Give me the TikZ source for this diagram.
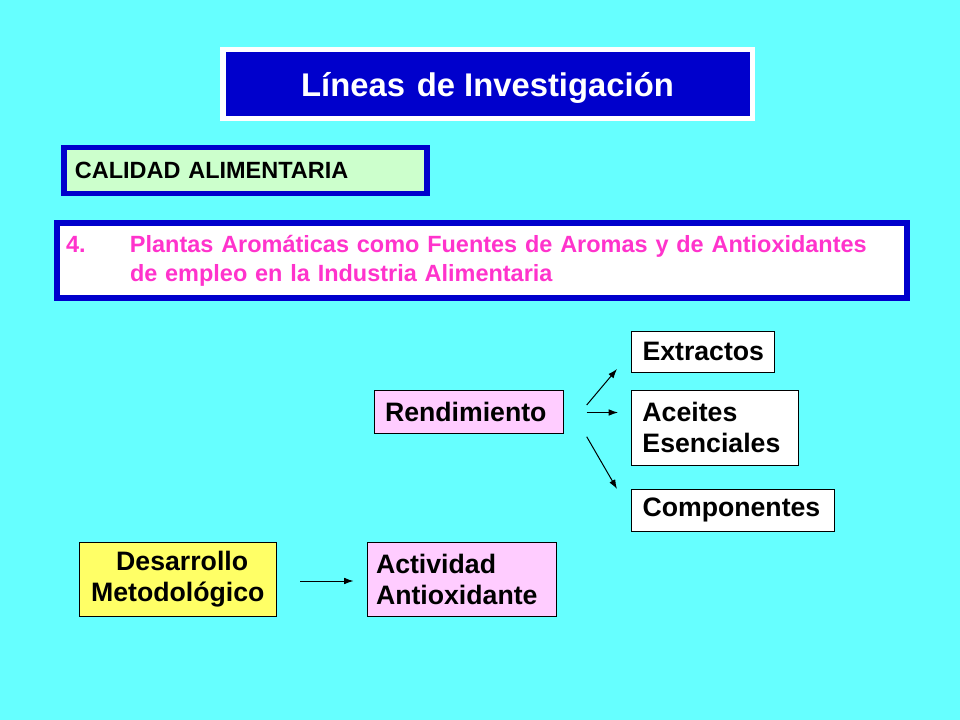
\documentclass[tikz,border=0pt]{standalone}
\usepackage{fontspec}
\setmainfont{Liberation Sans}
\usetikzlibrary{arrows.meta}
\definecolor{bgcyan}{HTML}{66FFFF}
\definecolor{deepblue}{HTML}{0000CC}
\definecolor{lightgreen}{HTML}{CCFFCC}
\definecolor{hotpink}{HTML}{FF33CC}
\definecolor{lightpink}{HTML}{FFCCFF}
\definecolor{lightyellow}{HTML}{FFFF66}
\tikzset{
  titlebox/.style={draw=white, line width=4.1pt, fill=deepblue, text=white,
    font=\bfseries\fontsize{24.6pt}{28pt}\selectfont, inner sep=0pt,
    text height=24pt, text depth=5pt},
  bluebox/.style={draw=deepblue, line width=4.2pt, align=left, inner ysep=0pt,
    font=\bfseries\fontsize{17.6pt}{21.75pt}\selectfont},
  itembox/.style={draw=black, line width=0.75pt, align=left, inner ysep=0pt,
    inner xsep=8.25pt, font=\bfseries\fontsize{20pt}{23.3pt}\selectfont},
  arr/.style={line width=0.75pt, -{Latex[length=7pt,width=5pt]}}
}
\begin{document}
\begin{tikzpicture}[x=0.75pt,y=-0.75pt]
\fill[bgcyan] (0,0) rectangle (960,720);
\useasboundingbox (0,0) rectangle (960,720);
% title
\node[titlebox, minimum width=397.1pt, minimum height=51.4pt] (title) at (487.5,84) {L\'ineas\hspace{2pt} de Investigaci\'on};
% calidad
\node[bluebox, fill=lightgreen, minimum width=272.6pt, minimum height=34.5pt,
  inner xsep=8.4pt, text width=255.8pt] (calidad) at (245.5,170.5) {CALIDAD ALIMENTARIA};
% plantas
\node[bluebox, fill=white, text=hotpink, minimum width=637.5pt, minimum height=56.6pt,
  inner xsep=6.75pt, text width=624pt] (plantas) at (482,260.5)
  {\makebox[48pt][l]{4.}Plantas Arom\'aticas como Fuentes de Aromas y de Antioxidantes\\
   \hspace*{48pt}de empleo en la Industria Alimentaria};
% items
\node[itembox, fill=lightpink, minimum width=141.75pt, minimum height=32.25pt, text width=125.25pt] (rend) at (468.5,411.5) {Rendimiento};
\node[itembox, fill=white, minimum width=107.6pt, minimum height=30.75pt, text width=91.1pt] (extr) at (703.25,351.5) {Extractos};
\node[itembox, fill=white, minimum width=124.9pt, minimum height=55.9pt, text width=108.4pt] (acei) at (714.75,427.75) {Aceites\\Esenciales};
\node[itembox, fill=white, minimum width=152.6pt, minimum height=31.5pt, text width=136.1pt] (comp) at (733.25,510) {Componentes};
\node[itembox, fill=lightyellow, align=center, minimum width=148.1pt, minimum height=55.5pt, text width=131.6pt] (desa) at (177.75,579.5) {\ Desarrollo\\Metodol\'ogico};
\node[itembox, fill=lightpink, inner xsep=6.75pt, minimum width=142.1pt, minimum height=55.5pt, text width=128.6pt] (acti) at (461.75,579.5) {Actividad\\Antioxidante};
% arrow end points
\coordinate (r1) at (586.7,405);
\coordinate (e1) at (617,369);
\coordinate (r2) at (586.7,412.5);
\coordinate (e2) at (618,412.5);
\coordinate (r3) at (586.7,436.7);
\coordinate (e3) at (617,489);
\coordinate (d1) at (300,581);
\coordinate (f1) at (353.5,581);
\draw[arr] (r1) -- (e1);
\draw[arr] (r2) -- (e2);
\draw[arr] (r3) -- (e3);
\draw[arr] (d1) -- (f1);
\end{tikzpicture}
\end{document}
